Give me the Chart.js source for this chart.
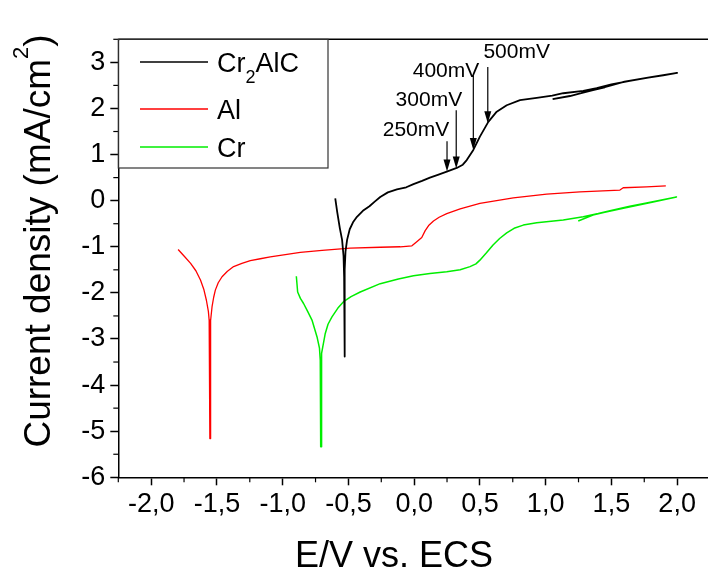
<!DOCTYPE html>
<html><head><meta charset="utf-8">
<script src="https://cdn.jsdelivr.net/npm/chart.js@4/dist/chart.umd.min.js"></script>
<style>html,body{margin:0;padding:0;overflow:hidden;background:#fff;width:708px;height:579px}#wrap{position:absolute;left:0;top:0;width:712px;height:579px}</style>
</head><body><div id="wrap"><canvas id="c" width="712" height="579"></canvas></div>
<script>
// ---- data ----
const seriesNames = ['Cr2AlC', 'Al', 'Cr'];
const cr2alcE = [-0.60,-0.585,-0.565,-0.548,-0.537,-0.5325,-0.5305,-0.5275,-0.527,-0.522,-0.51,-0.49,-0.465,-0.435,-0.39,-0.34,-0.30,-0.258,-0.20,-0.131,-0.06,-0.005,0.06,0.12,0.18,0.248,0.324,0.37,0.40,0.45,0.50,0.564,0.628,0.704,0.805,0.932,1.05,1.134,1.286,1.388,1.5,1.64,1.78,1.894,2.0,1.8,1.6,1.45,1.36,1.27,1.185,1.053];
const cr2alcJ = [0.05,-0.25,-0.60,-0.85,-1.2,-1.65,-3.38,-3.38,-1.5,-1.1,-0.85,-0.62,-0.47,-0.35,-0.22,-0.12,-0.02,0.08,0.18,0.245,0.29,0.36,0.43,0.50,0.56,0.63,0.71,0.78,0.88,1.10,1.39,1.71,1.93,2.07,2.18,2.23,2.28,2.33,2.38,2.44,2.52,2.60,2.67,2.72,2.77,2.68,2.58,2.46,2.40,2.33,2.27,2.20];
const alE = [-1.795,-1.75,-1.70,-1.66,-1.625,-1.60,-1.58,-1.565,-1.559,-1.554,-1.5535,-1.5505,-1.550,-1.546,-1.537,-1.525,-1.512,-1.49,-1.461,-1.42,-1.373,-1.31,-1.246,-1.17,-1.094,-0.98,-0.866,-0.70,-0.486,-0.258,-0.106,-0.017,0.02,0.058,0.084,0.11,0.147,0.19,0.248,0.35,0.50,0.754,1.008,1.261,1.565,1.59,1.767,1.914];
const alJ = [-1.06,-1.2,-1.36,-1.52,-1.72,-1.92,-2.16,-2.40,-2.59,-2.9,-5.16,-5.16,-3.2,-2.6,-2.30,-2.10,-1.94,-1.78,-1.65,-1.53,-1.43,-1.36,-1.30,-1.26,-1.22,-1.17,-1.12,-1.08,-1.03,-1.01,-1.0,-0.98,-0.89,-0.80,-0.65,-0.54,-0.44,-0.36,-0.28,-0.18,-0.06,0.06,0.14,0.19,0.23,0.28,0.30,0.32];
const crE = [-0.896,-0.886,-0.865,-0.841,-0.81,-0.777,-0.739,-0.72,-0.714,-0.711,-0.7105,-0.7075,-0.707,-0.704,-0.701,-0.676,-0.655,-0.625,-0.58,-0.537,-0.48,-0.41,-0.258,-0.12,-0.005,0.12,0.248,0.35,0.425,0.47,0.50,0.55,0.60,0.65,0.704,0.76,0.83,0.932,1.134,1.286,1.40,1.514,1.64,1.767,1.995,1.8,1.6,1.45,1.36,1.248];
const crJ = [-1.64,-1.98,-2.12,-2.23,-2.40,-2.59,-2.95,-3.2,-3.46,-3.9,-5.34,-5.34,-4.2,-3.6,-3.31,-2.88,-2.68,-2.52,-2.33,-2.19,-2.08,-1.98,-1.80,-1.70,-1.63,-1.58,-1.54,-1.50,-1.43,-1.37,-1.29,-1.13,-0.96,-0.82,-0.70,-0.60,-0.53,-0.48,-0.42,-0.35,-0.28,-0.20,-0.12,-0.05,0.08,-0.04,-0.16,-0.25,-0.31,-0.44];
const xTickValues = [-2.0,-1.5,-1.0,-0.5,0.0,0.5,1.0,1.5,2.0];
const yTickValues = [-6,-5,-4,-3,-2,-1,0,1,2,3];
const arrowLabels = ['250mV','300mV','400mV','500mV'];
const arrowE = [0.25,0.32,0.45,0.56];
const arrowTipJ = [0.63,0.70,1.10,1.68];
const arrowTailJ = [1.29,1.96,2.72,2.90];
const arrowLabelE = [0.014,0.112,0.242,0.78];
const arrowLabelJ = [1.53,2.18,2.80,3.21];

const FONT = '"Liberation Sans", Arial, sans-serif';
const colors = ['#000000', '#ff0000', '#00ee00'];
const widths = [1.8, 1.3, 1.5];
const toPts = (E, J) => E.map((e, i) => ({x: e, y: J[i]}));
const seriesData = [toPts(cr2alcE, cr2alcJ), toPts(alE, alJ), toPts(crE, crJ)];

const overlay = {
  id: 'overlay',
  afterDraw(chart) {
    const ctx = chart.ctx, a = chart.chartArea, xs = chart.scales.x, ys = chart.scales.y;
    ctx.save();
    ctx.strokeStyle = '#000'; ctx.lineWidth = 1.5;
    ctx.beginPath(); ctx.moveTo(a.left, a.top); ctx.lineTo(a.right, a.top); ctx.lineTo(a.right, a.bottom); ctx.stroke();
    // minor ticks
    ctx.lineWidth = 1.2;
    for (let v = -2.25; v <= 2.25001; v += 0.5) {
      const px = xs.getPixelForValue(v);
      ctx.beginPath(); ctx.moveTo(px, a.bottom); ctx.lineTo(px, a.bottom + 5); ctx.stroke();
    }
    for (let v = -5.5; v <= 3.5001; v += 1) {
      const py = ys.getPixelForValue(v);
      ctx.beginPath(); ctx.moveTo(a.left, py); ctx.lineTo(a.left - 5, py); ctx.stroke();
    }
    // legend
    const lx0 = a.left, ly0 = a.top, lx1 = 328, ly1 = 168;
    ctx.fillStyle = '#fff'; ctx.fillRect(lx0 + 1, ly0 + 1, lx1 - lx0 - 1, ly1 - ly0 - 1);
    ctx.strokeStyle = '#333'; ctx.lineWidth = 1.2;
    ctx.strokeRect(lx0, ly0, lx1 - lx0, ly1 - ly0);
    const rowY = [62, 109, 147];
    ctx.fillStyle = '#000';
    chart.data.datasets.forEach((ds, i) => {
      ctx.strokeStyle = ds.borderColor; ctx.lineWidth = 1.5;
      ctx.beginPath(); ctx.moveTo(140, rowY[i]); ctx.lineTo(208, rowY[i]); ctx.stroke();
      const base = rowY[i] + 10;
      ctx.textBaseline = 'alphabetic'; ctx.textAlign = 'left';
      const name = ds.label;
      const m = name.match(/^([A-Za-z]+)(\d)(.*)$/);
      if (m) {
        ctx.font = '27px ' + FONT;
        ctx.fillText(m[1], 217, base);
        let x = 217 + ctx.measureText(m[1]).width;
        ctx.font = '18px ' + FONT;
        ctx.fillText(m[2], x, base + 11);
        x += ctx.measureText(m[2]).width;
        ctx.font = '27px ' + FONT;
        ctx.fillText(m[3], x, base);
      } else {
        ctx.font = '27px ' + FONT;
        ctx.fillText(name, 217, base);
      }
    });
    // arrows
    ctx.strokeStyle = '#000'; ctx.fillStyle = '#000'; ctx.lineWidth = 1.2;
    arrowLabels.forEach((lab, i) => {
      const x = xs.getPixelForValue(arrowE[i]);
      const yt = ys.getPixelForValue(arrowTailJ[i]);
      const yh = ys.getPixelForValue(arrowTipJ[i]);
      ctx.beginPath(); ctx.moveTo(x, yt); ctx.lineTo(x, yh - 10); ctx.stroke();
      ctx.beginPath(); ctx.moveTo(x, yh); ctx.lineTo(x - 3.5, yh - 12); ctx.lineTo(x + 3.5, yh - 12); ctx.closePath(); ctx.fill();
      ctx.font = '21px ' + FONT; ctx.textAlign = 'center'; ctx.textBaseline = 'middle';
      ctx.fillText(lab, xs.getPixelForValue(arrowLabelE[i]), ys.getPixelForValue(arrowLabelJ[i]));
    });
    // x title
    ctx.font = '36px ' + FONT; ctx.textAlign = 'center'; ctx.textBaseline = 'alphabetic';
    ctx.fillText('E/V vs. ECS', 394, 567);
    // y title
    ctx.save();
    ctx.translate(50, 241); ctx.rotate(-Math.PI / 2);
    const t1 = 'Current density (mA/cm', t2 = '2', t3 = ')';
    ctx.font = '37px ' + FONT; const w1 = ctx.measureText(t1).width, w3 = ctx.measureText(t3).width;
    ctx.font = '22px ' + FONT; const w2 = ctx.measureText(t2).width;
    let sx = -(w1 + w2 + w3) / 2;
    ctx.textAlign = 'left';
    ctx.font = '37px ' + FONT; ctx.fillText(t1, sx, 0); sx += w1;
    ctx.font = '22px ' + FONT; ctx.fillText(t2, sx, -22); sx += w2;
    ctx.font = '37px ' + FONT; ctx.fillText(t3, sx, 0);
    ctx.restore();
    ctx.restore();
  }
};

new Chart(document.getElementById('c'), {
  type: 'scatter',
  data: {
    datasets: seriesNames.map((n, i) => ({
      label: n, data: seriesData[i], showLine: true, borderColor: colors[i], backgroundColor: colors[i],
      borderWidth: widths[i], borderJoinStyle: 'round', pointRadius: 0, pointHoverRadius: 0, tension: 0, fill: false
    }))
  },
  options: {
    responsive: false, animation: false, devicePixelRatio: 1,
    layout: { padding: { left: 0, top: 39.3, right: 2, bottom: 0 } },
    plugins: { legend: { display: false }, tooltip: { enabled: false } },
    scales: {
      x: {
        type: 'linear', min: -2.25, max: 2.25,
        afterBuildTicks: s => { s.ticks = xTickValues.map(v => ({ value: v })); },
        afterFit: s => { s.height = 579 - 477.3; },
        ticks: { color: '#000', font: { family: FONT, size: 27 }, padding: 3, maxRotation: 0, autoSkip: false,
          callback: v => v.toFixed(1).replace('.', ',') },
        grid: { drawOnChartArea: false, drawTicks: true, tickLength: 8, tickColor: '#000', tickWidth: 1.5 },
        border: { display: true, color: '#000', width: 1.5 }
      },
      y: {
        type: 'linear', min: -6, max: 3.5,
        afterBuildTicks: s => { s.ticks = yTickValues.map(v => ({ value: v })); },
        afterFit: s => { s.width = 118.3; },
        ticks: { color: '#000', font: { family: FONT, size: 27 }, padding: 5, autoSkip: false,
          callback: v => String(v) },
        grid: { drawOnChartArea: false, drawTicks: true, tickLength: 8, tickColor: '#000', tickWidth: 1.5 },
        border: { display: true, color: '#000', width: 1.5 }
      }
    }
  },
  plugins: [overlay]
});
</script></body></html>
